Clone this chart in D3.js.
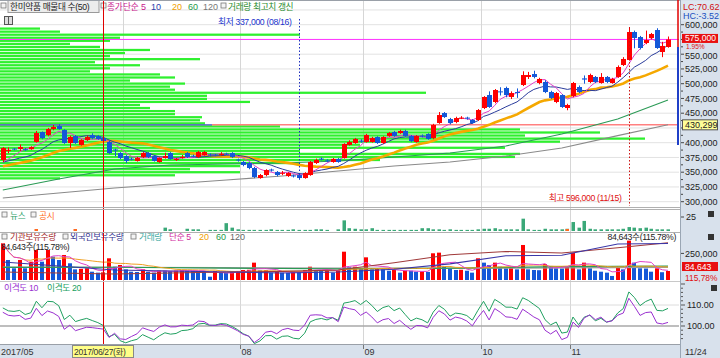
<!DOCTYPE html>
<html><head><meta charset="utf-8">
<script src="https://cdn.jsdelivr.net/npm/d3@7"></script>
<style>body{margin:0;background:#fff}svg{display:block}</style>
</head><body>
<svg id="c" width="720" height="358"></svg>
<script>
// ---------------- DATA ----------------
const startDate = "2017-05-31", endDate = "2017-11-24";
const holidays = ["2017-06-06","2017-08-15","2017-10-02","2017-10-03","2017-10-04","2017-10-05","2017-10-06","2017-10-09"];
const priorCloses = [350000,352000,355000,351000,353000,356000,352000,354000,353000,354000,366000,368000,367000,369000,365000,361000,362000,360000,361000];
const opens = [370700,386000,390000,389300,389000,389000,401200,418100,413000,423200,
428300,421500,399500,411300,396100,404600,413000,411300,407900,401200,
388500,382500,377400,373000,369000,375700,382500,377400,367300,374000,
382500,370700,374000,382500,378000,375700,379100,380000,380000,380000,
381500,382500,371500,367300,365600,357100,340100,345200,354500,350300,
347500,343500,344500,345200,340100,345200,365600,373000,370000,367300,
372400,374000,396100,399500,403500,401200,401200,409600,399500,411300,
418100,416400,419800,411300,401200,412000,414700,407900,433400,450300,
440100,435100,441000,442500,438500,438500,458800,480800,469000,487000,
492700,477500,485900,497800,511400,516400,501200,502900,485900,469000,
480800,458800,479100,494400,509000,502900,511400,501200,511400,501200,
511400,531700,540200,587600,579100,569000,577500,591000,553700,562200];
const highs = [392700,392000,391000,397000,391000,394000,420000,419000,425000,430000,
431500,423000,412000,413000,406000,412000,416000,413000,410000,403000,
390000,384000,379000,375000,376000,384000,384000,379000,375000,383000,
384000,374000,379000,384000,380000,386000,386000,382000,381000,384000,
383000,384000,373000,369000,367000,359000,347000,355000,356000,352000,
352000,350000,346000,347000,350000,369000,373000,375000,372000,374000,
374000,399000,404000,408000,406000,415000,410000,411000,411000,418000,
420000,422000,422000,413000,413000,414000,416000,432000,452000,452000,
442000,444000,445000,444000,440000,457000,479000,487000,491000,494000,
495000,487000,492000,521000,520000,522000,510000,506000,488000,486000,
482000,466000,503000,497000,514000,517000,513000,518000,513000,510000,
531000,545000,596000,590000,581000,590000,586000,594000,571000,580000];
const lows = [367300,382000,387000,386000,386000,388000,400000,406000,411000,421000,
422000,398000,391000,398000,395000,403000,406000,405000,401000,381000,
377000,372000,365600,370000,368000,374000,374000,368000,366000,373000,
371000,369000,373000,374000,375000,374000,378000,377000,377000,378000,
379000,374000,368000,360000,355000,340000,339000,343000,351000,343000,
345000,342000,341000,337000,339000,344000,364000,370000,367000,366000,
366000,373000,395000,398000,400000,400000,400000,398000,398000,410000,
410000,415000,410000,401000,400000,409000,405000,406000,432000,442000,
431000,433000,440000,439000,432000,437000,457000,459000,467000,480000,
477000,474000,476000,496000,508000,509000,499000,484000,474000,467000,
459000,455000,477000,484000,500000,501000,501000,500000,501000,500000,
510000,530000,539000,560000,558000,567000,575000,559000,545000,561000];
const closes = [391000,388000,389000,392700,387600,392700,416400,407900,423200,426600,
423200,399500,409600,399500,404600,409600,407900,406300,402900,382500,
387000,374000,369000,372000,374000,382500,375700,369000,374000,377400,
372400,372400,376000,375700,377000,384200,384200,379000,378500,381000,
380000,375700,370000,362200,357100,341800,345200,353700,353000,345200,
349000,348600,343000,340100,348600,367300,370700,372000,369000,372400,
367300,397800,401200,406300,402000,413000,407900,399500,409600,416400,
411300,419800,411300,402900,411300,410500,406300,430000,446900,443500,
433400,441800,442500,441000,433400,455400,477500,460500,489300,485900,
480800,484200,484200,514700,514700,511400,508000,485900,475800,484200,
460500,463900,501200,485900,507000,514700,502900,511400,502900,508000,
528300,541900,587600,577500,560500,574000,584200,560500,564000,575000];
const volumes = [345000,188000,110000,188000,110000,172000,282000,172000,282000,219000,
188000,235000,157000,100000,105000,110000,78000,69000,72000,204000,
125000,141000,100000,78000,75000,100000,78000,69000,88000,87000,
85000,88000,90000,88000,86000,84000,82000,31000,85000,69000,
66000,78000,85000,94000,96000,163000,90000,92000,69000,78000,
69000,66000,78000,76000,94000,125000,94000,87000,90000,69000,
94000,266000,120000,125000,110000,213000,100000,110000,100000,87000,
94000,69000,88000,87000,78000,80000,76000,251000,257000,125000,
110000,94000,96000,87000,69000,204000,163000,141000,163000,125000,
110000,112000,100000,329000,100000,94000,92000,150000,132000,110000,
108000,125000,257000,100000,163000,110000,87000,78000,69000,38000,
125000,100000,370000,163000,110000,108000,78000,110000,73107,84643];
const newsCounts = [0,0,0,0,0,0,0,0,0,0, 0,0,0,0,0,0,0,0,0,0, 0,0,0,0,0,0,0,0,0,6,
3,0,0,4,3,3,0,2,2,2, 14,6,3,2,2,2,2,2,3,2, 2,2,3,2,2,2,3,3,2,0,
3,19,5,4,3,3,5,2,2,2, 2,2,2,2,2,5,5,3,3,2, 3,2,2,2,2,3,4,4,5,3,
3,3,3,22,3,2,2,4,3,3, 3,4,16,6,18,4,3,3,3,3, 3,4,7,6,5,6,4,3,3,3];
const disclosureIdx = [6,13,101];
const sampleIdx = [0,10,20,30,40,50,60,70,80,90,100,110,119];
const ma60Samples  = [319800,338500,355400,362200,363900,365600,369000,375700,382500,394400,414700,440100,472400];
const ma120Samples = [306200,314700,323200,330000,336800,343500,352000,360500,367300,377400,391000,412000,430299];
const instHold    = [1074,1065,1056,1065,1074,1080,1093,1160,1235,1265,1251,1300,1347];
const foreignHold = [1167,1130,1093,1084,1074,1065,1074,1100,1150,1225,1230,1335,1340];
const volSampleIdx = [0,20,40,60,80,100,119];
const volMA60Samples  = [118000,120000,112000,105000,112000,125000,130000];
const volMA120Samples = [122000,120000,116000,112000,110000,114000,118000];
// volume profile (매물대 50), thousand shares per price bin, top bin first
const profile = [80,120,600,240,220,140,200,300,250,220,
400,190,280,220,180,320,350,260,370,340,
350,852,414,414,500,280,300,350,350,404,
400,410,560,1040,1200,1050,1290,1120,720,1010,
600,1040,1030,760,600,480,380,480,350,120];
const profHigh = 596000, profLow = 337000;
const priceTicks = [300000,325000,350000,375000,400000,450000,475000,500000,525000,550000,600000];
const lastPrice = 575000, changePct = "1.95%", lineLevel = 430299;
const lowIdx = 53, highIdx = 112, crossIdx = 18;

// ---------------- SETUP ----------------
const FONT = "'Liberation Sans','Noto Sans CJK KR',sans-serif";
const svg = d3.select("#c");
const RED = "#ff0000", BLUE = "#1458d8";
function tradingDays(s, e, hol) {
  const out = [], fmt = d3.utcFormat("%Y-%m-%d");
  for (let d = new Date(s+"T00:00:00Z"); d <= new Date(e+"T00:00:00Z"); d = d3.utcDay.offset(d,1)) {
    const wd = d.getUTCDay(), k = fmt(d);
    if (wd===0 || wd===6 || hol.includes(k)) continue;
    out.push(k);
  }
  return out;
}
const dates = tradingDays(startDate, endDate, holidays).slice(0, closes.length);
const N = closes.length;
const x = d3.scalePoint().domain(d3.range(N)).range([2.8, 668]);
const step = x.step();
const plotR = 679;
const y = d3.scaleLinear().domain([300000,600000]).range([201.7,24.7]);
const yVol = d3.scaleLinear().domain([0,404000]).range([280,237]);
const yHold = d3.scaleLinear().domain([1000,1400]).range([280,237]);
const yNews = d3.scaleLinear().domain([0,25]).range([231,217]);
const yDisp = d3.scaleLinear().domain([100,110]).range([326,305]);

function txt(g, xx, yy, s, color, anchor, size) {
  const kor = /[\uac00-\ud7a3]/.test(s);
  return g.append("text").attr("x",xx).attr("y",yy).text(s)
    .attr("fill",color||"#222").attr("text-anchor",anchor||"start")
    .attr("font-family",FONT).attr("font-size",(size||(kor?8.7:9))+"px")
    .attr("letter-spacing", kor ? -0.35 : 0);
}
function icon(g, xx, yy) {
  g.append("rect").attr("x",xx).attr("y",yy).attr("width",5).attr("height",5)
   .attr("fill","#f4f4f4").attr("stroke","#777").attr("stroke-width",0.8);
}
const defs = svg.append("defs");
function clip(id, y0, y1) {
  defs.append("clipPath").attr("id",id).append("rect").attr("x",0).attr("y",y0).attr("width",plotR).attr("height",y1-y0);
}
clip("cm",1,207); clip("cn",209,232); clip("cv",233,281); clip("cd",282,344);

// moving averages
const allC = priorCloses.concat(closes);
const P0 = priorCloses.length;
function ma(n) { return closes.map((c,i)=> d3.mean(allC.slice(P0+i-n+1, P0+i+1))); }
const ma5 = ma(5), ma10 = ma(10), ma20 = ma(20);
function vma(n) { return volumes.map((v,i)=> d3.mean(volumes.slice(Math.max(0,i-n+1), i+1))); }
const vma5 = vma(5), vma20 = vma(20);
const disp10 = closes.map((c,i)=> c/ma10[i]*100);
const disp20 = closes.map((c,i)=> c/ma20[i]*100);

// ---------------- BACKGROUND / GRID ----------------
svg.append("rect").attr("width",720).attr("height",358).attr("fill","#fff");
const grid = svg.append("g");
d3.range(300000, 625001, 25000).forEach(p=>{
  grid.append("line").attr("x1",0).attr("x2",plotR).attr("y1",y(p)).attr("y2",y(p)).attr("stroke","#e2e2e2");
});
const monthStarts = [];
dates.forEach((d,i)=>{ if (i>0 && d.slice(5,7)!==dates[i-1].slice(5,7)) monthStarts.push(i); });
monthStarts.filter(i=>i>5).forEach(i=>{
  const mx = Math.round(x(i)-step/2)+0.5;
  grid.append("line").attr("x1",mx).attr("x2",mx).attr("y1",1).attr("y2",349).attr("stroke","#d6d6d6");
});
grid.append("line").attr("x1",0).attr("x2",plotR).attr("y1",yDisp(110)).attr("y2",yDisp(110)).attr("stroke","#dcdcdc");
grid.append("line").attr("x1",0).attr("x2",plotR).attr("y1",yDisp(100)).attr("y2",yDisp(100)).attr("stroke","#a8a8a8").attr("stroke-width",1.5);

// ---------------- MAIN PANEL ----------------
const gm = svg.append("g").attr("clip-path","url(#cm)");
const binSize = (profHigh-profLow)/profile.length;
const px = d3.scaleLinear().domain([0, d3.max(profile)]).range([0, 645]);
gm.append("g").selectAll("rect").data(profile).join("rect")
  .attr("x",0).attr("y",(v,k)=>y(profHigh-k*binSize)+0.4)
  .attr("width",v=>px(v))
  .attr("height",(v,k)=>y(profHigh-(k+1)*binSize)-y(profHigh-k*binSize)-0.8)
  .attr("fill","#2ef02e");
gm.append("line").attr("x1",0).attr("x2",212).attr("y1",y(lineLevel)).attr("y2",y(lineLevel)).attr("stroke","#4848c8").attr("stroke-width",1.2);
gm.append("line").attr("x1",212).attr("x2",plotR).attr("y1",y(lineLevel)).attr("y2",y(lineLevel)).attr("stroke","#ff8080").attr("stroke-width",1.6);
gm.append("line").attr("x1",0).attr("x2",plotR).attr("y1",y(lastPrice)).attr("y2",y(lastPrice)).attr("stroke","#ff33ff").attr("stroke-width",1);
const lineI = (arr, ys)=> d3.line().x((v,i)=>x(i)).y(v=>ys(v))(arr);
const lineS = (idx, arr, ys)=> d3.line().x((v,k)=>x(idx[k])).y(v=>ys(v))(arr);
gm.append("path").attr("d",lineS(sampleIdx, ma120Samples, y)).attr("fill","none").attr("stroke","#8a8a8a").attr("stroke-width",1.1);
gm.append("path").attr("d",lineS(sampleIdx, ma60Samples, y)).attr("fill","none").attr("stroke","#2a9a55").attr("stroke-width",1.1);
gm.append("path").attr("d",lineI(ma20, y)).attr("fill","none").attr("stroke","#f5a800").attr("stroke-width",2.6);
gm.append("path").attr("d",lineI(ma10, y)).attr("fill","none").attr("stroke","#2a3c9c").attr("stroke-width",1);
gm.append("path").attr("d",lineI(ma5, y)).attr("fill","none").attr("stroke","#e040c8").attr("stroke-width",1);
const cg = gm.append("g");
closes.forEach((c,i)=>{
  const o = opens[i], up = c >= o, col = up ? RED : BLUE;
  const cx = Math.round(x(i))+0.5;
  cg.append("line").attr("x1",cx).attr("x2",cx).attr("y1",y(highs[i])).attr("y2",y(lows[i])).attr("stroke",col);
  const t = y(Math.max(o,c)), b = y(Math.min(o,c));
  cg.append("rect").attr("x",cx-2.5).attr("y",t).attr("width",5).attr("height",Math.max(1,b-t)).attr("fill",col);
});
const xl = Math.round(x(lowIdx))+0.5, xh = Math.round(x(highIdx))+0.5;
svg.append("line").attr("x1",xl).attr("x2",xl).attr("y1",19).attr("y2",y(lows[lowIdx])).attr("stroke","#2030c0").attr("stroke-dasharray","1.5,2");
txt(svg, xl-8, 25, "최저 " + d3.format(",")(lows[lowIdx]) + " (" + dates[lowIdx].slice(5).replace("-","/") + ")", "#1a33cc", "end");
svg.append("line").attr("x1",xh).attr("x2",xh).attr("y1",y(highs[highIdx])).attr("y2",206).attr("stroke","#cc1010").attr("stroke-dasharray","1.5,2");
txt(svg, xh-8, 201, "최고 " + d3.format(",")(highs[highIdx]) + " (" + dates[highIdx].slice(5).replace("-","/") + ")", "#e01010", "end");
// legend main
const lg = svg.append("g");
icon(lg, 1, 3);
lg.append("rect").attr("x",8).attr("y",0.5).attr("width",91).attr("height",12).attr("fill","#ececec").attr("stroke","#9a9a9a");
txt(lg, 10, 10, "한미약품 매물대 수(50)", "#222");
icon(lg, 101, 3);
txt(lg, 107, 10, "종가", "#c8168c");
txt(lg, 123, 10, "단순", "#c8168c");
txt(lg, 141, 10, "5", "#c8168c");
txt(lg, 151, 10, "10", "#2a3caa");
txt(lg, 172, 10, "20", "#f0a000");
txt(lg, 188, 10, "60", "#1f9a4a");
txt(lg, 203, 10, "120", "#777");
icon(lg, 221, 3);
txt(lg, 228, 10, "거래량 최고치 갱신", "#1f8a2a");
lg.append("rect").attr("x",4.5).attr("y",16.5).attr("width",8).attr("height",8).attr("fill","#ddd").attr("stroke","#555");
lg.append("line").attr("x1",8.5).attr("x2",8.5).attr("y1",17).attr("y2",24).attr("stroke","#555");

// ---------------- NEWS PANEL ----------------
const gn = svg.append("g").attr("clip-path","url(#cn)");
gn.selectAll("rect.n").data(newsCounts).join("rect").attr("class","n")
  .attr("x",(v,i)=>Math.round(x(i))-1.5).attr("y",v=>yNews(v)).attr("width",3.5)
  .attr("height",v=>yNews(0)-yNews(v)).attr("fill","#3aa878");
gn.selectAll("rect.d").data(disclosureIdx).join("rect").attr("class","d")
  .attr("x",i=>Math.round(x(i))-1.5).attr("y",yNews(0)-2).attr("width",3.5).attr("height",2).attr("fill","#ff6a20");
icon(svg, 2, 212); txt(svg, 10, 219, "뉴스", "#2f9f6a");
icon(svg, 31, 212); txt(svg, 39, 219, "공시", "#ff6a20");

// ---------------- VOLUME PANEL ----------------
const gv = svg.append("g").attr("clip-path","url(#cv)");
volumes.forEach((v,i)=>{
  const up = i===0 || v >= volumes[i-1];
  gv.append("rect").attr("x",Math.round(x(i))-2).attr("y",yVol(v)).attr("width",4).attr("height",yVol(0)-yVol(v)).attr("fill",up?RED:BLUE);
});
gv.append("path").attr("d",lineS(volSampleIdx, volMA120Samples, yVol)).attr("fill","none").attr("stroke","#9a9a9a").attr("stroke-width",1.2);
gv.append("path").attr("d",lineS(volSampleIdx, volMA60Samples, yVol)).attr("fill","none").attr("stroke","#2a9a55").attr("stroke-width",1.2);
gv.append("path").attr("d",lineI(vma20, yVol)).attr("fill","none").attr("stroke","#f0a020").attr("stroke-width",1);
gv.append("path").attr("d",lineI(vma5, yVol)).attr("fill","none").attr("stroke","#e040c8").attr("stroke-width",1);
gv.append("path").attr("d",lineS(sampleIdx, instHold, yHold)).attr("fill","none").attr("stroke","#a03a3a").attr("stroke-width",1.1);
gv.append("path").attr("d",lineS(sampleIdx, foreignHold, yHold)).attr("fill","none").attr("stroke","#3a36a8").attr("stroke-width",1.1);
const lastVol = volumes[N-1], ratio = d3.format(".2f")(lastVol/volumes[N-2]*100);
icon(svg, 2, 234); txt(svg, 10, 240, "기관보유수량", "#a52a2a");
icon(svg, 63, 234); txt(svg, 70, 240, "외국인보유수량", "#33338f");
icon(svg, 131, 234); txt(svg, 139, 240, "거래량", "#3aa8a0");
txt(svg, 169, 240, "단순 5", "#d0289c");
txt(svg, 199, 240, "20", "#f0a000");
txt(svg, 216, 240, "60", "#1f9a4a");
txt(svg, 230, 240, "120", "#666");
txt(svg, 1, 250, d3.format(",")(lastVol) + "주(" + ratio + "%)", "#222");
txt(svg, 676, 240, d3.format(",")(lastVol) + "주(" + ratio + "%)", "#222", "end");

// ---------------- DISPARITY PANEL ----------------
const gd = svg.append("g").attr("clip-path","url(#cd)");
gd.append("path").attr("d",lineI(disp20, yDisp)).attr("fill","none").attr("stroke","#20a060").attr("stroke-width",1);
gd.append("path").attr("d",lineI(disp10, yDisp)).attr("fill","none").attr("stroke","#9a30d0").attr("stroke-width",1);
txt(svg, 4, 291, "이격도 10", "#9a30d0");
txt(svg, 47, 291, "이격도 20", "#20a060");

const xc = Math.round(x(crossIdx))+0.5;
svg.append("line").attr("x1",xc).attr("x2",xc).attr("y1",0).attr("y2",345).attr("stroke","#e00000");

// ---------------- SEPARATORS ----------------
const sep = svg.append("g");
[[0.5,"#9aa0a8"],[207.5,"#b0b0b0"],[209.5,"#b0b0b0"],[232.5,"#b0b0b0"],[281.5,"#c8c8c8"],[344.5,"#9aa0a8"]].forEach(([yy,c])=>{
  sep.append("line").attr("x1",0).attr("x2",720).attr("y1",yy).attr("y2",yy).attr("stroke",c);
});

// ---------------- X AXIS ----------------
svg.append("rect").attr("x",0).attr("y",345).attr("width",720).attr("height",13).attr("fill","#d8e1ec");
const xa = svg.append("g");
txt(xa, 1, 355, dates[0].slice(0,4) + "/" + dates[0].slice(5,7), "#333");
const boxX0 = 72.5, boxX1 = 133.5;
monthStarts.filter(i=>i>5).forEach(i=>{
  const mx = Math.round(x(i)-step/2)+0.5;
  xa.append("line").attr("x1",mx).attr("x2",mx).attr("y1",345).attr("y2",349).attr("stroke","#777");
  if (mx > boxX0 - 12 && mx < boxX1 + 2) return; // hidden under the crosshair date box
  txt(xa, mx+1, 355, dates[i].slice(5,7), "#333");
});
const cd = dates[crossIdx];
const wk = ["일","월","화","수","목","금","토"][new Date(cd+"T00:00:00Z").getUTCDay()];
xa.append("rect").attr("x",boxX0).attr("y",345.5).attr("width",boxX1-boxX0).attr("height",12).attr("fill","#ffff88").attr("stroke","#888");
txt(xa, 74, 355, cd.replace(/-/g,"/") + "(" + wk + ")", "#333", "start", 8.5);

// ---------------- RIGHT AXIS ----------------
const ra = svg.append("g");
ra.append("rect").attr("x",680).attr("y",0).attr("width",40).attr("height",358).attr("fill","#d8e1ec");
ra.append("line").attr("x1",680.5).attr("x2",680.5).attr("y1",0).attr("y2",358).attr("stroke","#9aa6b4");
ra.append("line").attr("x1",678).attr("x2",678).attr("y1",0).attr("y2",47).attr("stroke","#e00000").attr("stroke-width",1.5);
ra.append("line").attr("x1",678).attr("x2",678).attr("y1",47).attr("y2",145).attr("stroke","#2040c8").attr("stroke-width",2);
d3.range(300000, 612500, 12500).forEach(p=>{
  ra.append("line").attr("x1",681).attr("x2",p%25000===0?684:683).attr("y1",y(p)).attr("y2",y(p)).attr("stroke","#444");
});
priceTicks.forEach(p=> txt(ra, 685, y(p)+(p===550000?4.3:3.2), d3.format(",")(p), "#222"));
ra.append("rect").attr("x",682).attr("y",y(lastPrice)-5.5).attr("width",36).attr("height",9).attr("fill","#e81010");
txt(ra, 685, y(lastPrice)+2, d3.format(",")(lastPrice), "#fff", "start", 8.6);
txt(ra, 686, y(lastPrice)+9.8, changePct, "#e01010", "start", 6.6);
ra.append("rect").attr("x",682.5).attr("y",y(lineLevel)-5).attr("width",35).attr("height",10).attr("fill","#ffff99").attr("stroke","#555");
txt(ra, 685, y(lineLevel)+3.3, d3.format(",")(Math.round(lineLevel)), "#222");
ra.append("rect").attr("x",681).attr("y",1).attr("width",38).attr("height",20).attr("fill","#dde6f0");
txt(ra, 683, 10, "LC:70.62", "#d01010");
txt(ra, 683, 19, "HC:-3.52", "#1a50c0");
ra.append("line").attr("x1",681).attr("x2",684).attr("y1",yNews(25)).attr("y2",yNews(25)).attr("stroke","#444");
txt(ra, 686, yNews(25)+3.3, "25", "#222");
ra.append("rect").attr("x",708).attr("y",211).attr("width",6).attr("height",6).attr("fill","#333");
ra.append("rect").attr("x",708).attr("y",234).attr("width",6).attr("height",6).attr("fill","#333");
ra.append("line").attr("x1",681).attr("x2",684).attr("y1",yVol(250000)).attr("y2",yVol(250000)).attr("stroke","#444");
txt(ra, 685, yVol(250000)+3.3, "250,000", "#222");
ra.append("rect").attr("x",682).attr("y",262).attr("width",36).attr("height",9).attr("fill","#e81010");
txt(ra, 685, 269.5, d3.format(",")(lastVol), "#fff", "start", 8.6);
txt(ra, 685, 280.5, ratio.replace(".",",") + "%", "#e01010", "start", 8.4);
ra.append("rect").attr("x",711).attr("y",285).attr("width",6).attr("height",6).attr("fill","#333");
d3.range(94, 121, 2).forEach(v=>{
  const yy = yDisp(v); if (yy < 283 || yy > 343) return;
  ra.append("line").attr("x1",681).attr("x2",v%10===0?685:683).attr("y1",yy).attr("y2",yy).attr("stroke","#555");
});
[110,100].forEach(v=> txt(ra, 687, yDisp(v)+3.3, d3.format(".2f")(v), "#222"));
txt(ra, 685, 355, dates[N-1].slice(5).replace("-","/"), "#333");
</script>
</body></html>
